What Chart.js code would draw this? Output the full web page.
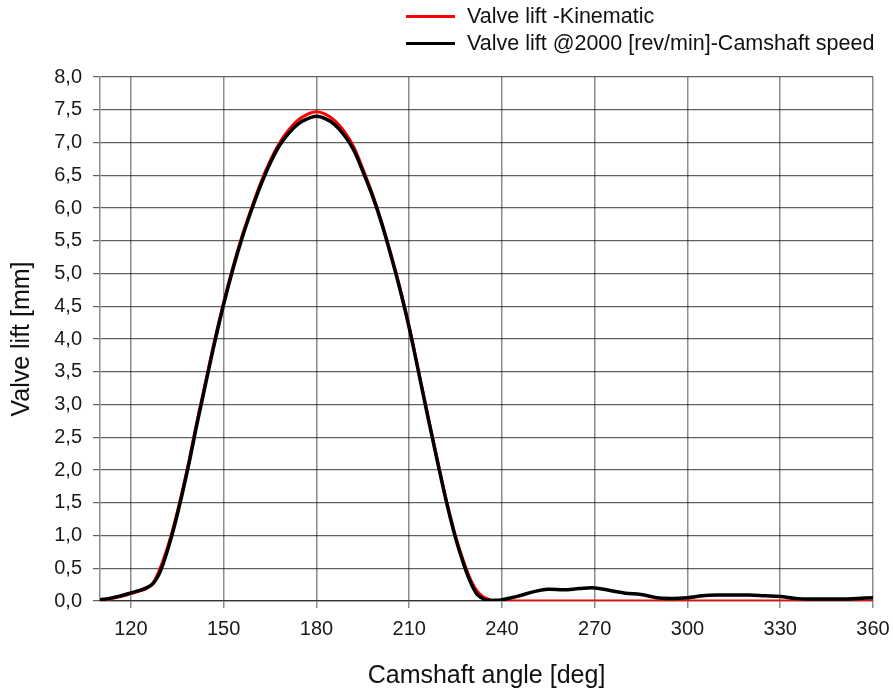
<!DOCTYPE html>
<html>
<head>
<meta charset="utf-8">
<script src="https://cdn.jsdelivr.net/npm/chart.js@4/dist/chart.umd.min.js"></script>
<style>
  html, body { margin: 0; padding: 0; background: #fff; }
  #wrap { position: relative; width: 893px; height: 691px; }
  #legend { position: absolute; left: 406px; top: 3px; font-family: "Liberation Sans", Arial, sans-serif; font-size: 21.5px; color: #111; }
  #legend .row { display: flex; align-items: center; height: 27px; }
  #legend .sw { width: 49px; height: 3px; margin-right: 12px; }
</style>
</head>
<body>
<div id="wrap">
  <canvas id="c" width="893" height="691"></canvas>
  <div id="legend"></div>
</div>
<script>
// Camshaft angle [deg]
const ANGLES = [110,113,116,119,122,125,127,129,131,133,135,137,139,141,143,145,147,
  150,153,156,159,162,165,168,171,174,177,180,
  183,186,189,192,195,198,201,204,207,210,213,216,219,222,225,228,
  230,232,234,236,238,240,
  245,250,255,260,265,270,275,280,285,290,295,300,305,310,315,320,325,330,335,340,345,350,355,360];

// Valve lift -Kinematic [mm]
const LIFT_KINEMATIC = [0.01,0.03,0.06,0.10,0.14,0.19,0.26,0.45,0.70,1.00,1.36,1.76,2.19,2.66,3.10,3.53,3.97,
  4.56,5.10,5.58,6.00,6.39,6.72,6.99,7.19,7.34,7.43,7.47,
  7.43,7.33,7.17,6.94,6.60,6.23,5.80,5.31,4.78,4.19,3.52,2.84,2.18,1.54,0.99,0.55,
  0.31,0.15,0.06,0.02,0.00,0.00,
  0,0,0,0,0,0,0,0,0,0,0,0,0,0,0,0,0,0,0,0,0,0,0,0];

// Valve lift @2000 [rev/min]-Camshaft speed [mm]
const LIFT_2000 = [0.02,0.04,0.07,0.11,0.15,0.20,0.26,0.40,0.65,0.96,1.32,1.72,2.15,2.62,3.06,3.50,3.93,
  4.53,5.07,5.55,5.97,6.35,6.68,6.95,7.14,7.28,7.36,7.40,
  7.36,7.27,7.11,6.89,6.56,6.20,5.78,5.29,4.76,4.17,3.50,2.82,2.16,1.52,0.96,0.51,
  0.27,0.10,0.03,0.01,0.01,0.02,
  0.07,0.14,0.18,0.17,0.19,0.20,0.16,0.12,0.10,0.05,0.04,0.05,0.08,0.09,0.09,0.09,0.08,0.07,0.04,0.03,0.03,0.03,0.04,0.05];

const X_TICKS = [120,150,180,210,240,270,300,330,360];
const Y_TICKS = [0,0.5,1,1.5,2,2.5,3,3.5,4,4.5,5,5.5,6,6.5,7,7.5,8];

const SERIES_LABELS = ['Valve lift -Kinematic', 'Valve lift @2000 [rev/min]-Camshaft speed'];
const X_TITLE = 'Camshaft angle [deg]';
const Y_TITLE = 'Valve lift [mm]';

const toPts = (vals) => ANGLES.map((a, i) => ({x: a, y: vals[i]}));

const htmlLegend = {
  id: 'htmlLegend',
  afterInit(chart) {
    const box = document.getElementById('legend');
    box.innerHTML = '';
    chart.data.datasets.forEach(ds => {
      const row = document.createElement('div');
      row.className = 'row';
      const sw = document.createElement('span');
      sw.className = 'sw';
      sw.style.background = ds.borderColor;
      const tx = document.createElement('span');
      tx.textContent = ds.label;
      row.appendChild(sw); row.appendChild(tx);
      box.appendChild(row);
    });
  }
};

const FONT = '"Liberation Sans", Arial, sans-serif';
const GRID_V = 'rgba(0,0,0,0.45)';
const GRID_H = 'rgba(0,0,0,0.62)';

new Chart(document.getElementById('c'), {
  type: 'line',
  data: {
    datasets: [
      { label: SERIES_LABELS[0], data: toPts(LIFT_KINEMATIC), borderColor: '#ff0000', borderWidth: 3,
        pointRadius: 0, tension: 0.35, order: 2 },
      { label: SERIES_LABELS[1], data: toPts(LIFT_2000), borderColor: '#000000', borderWidth: 3.5,
        pointRadius: 0, tension: 0.35, order: 1 }
    ]
  },
  options: {
    responsive: false,
    animation: false,
    layout: { padding: { top: 77, right: 20, bottom: 0, left: 0 } },
    plugins: { legend: { display: false }, tooltip: { enabled: false } },
    scales: {
      x: {
        type: 'linear', min: 110, max: 360,
        afterBuildTicks: s => { s.ticks = X_TICKS.map(v => ({value: v})); },
        afterFit: s => { s.height = 90; s.paddingLeft = 0; s.paddingRight = 0; },
        ticks: { font: { family: FONT, size: 20 }, color: '#1a1a1a', padding: 9, maxRotation: 0, autoSkip: false },
        grid: { color: GRID_V, lineWidth: 1.5, tickLength: 7, tickColor: GRID_V, tickWidth: 1.5 },
        border: { color: GRID_V, width: 1.5 },
        title: { display: true, text: X_TITLE, font: { family: FONT, size: 25 }, color: '#111', padding: { top: 0, bottom: 0 } }
      },
      y: {
        type: 'linear', min: 0, max: 8,
        afterBuildTicks: s => { s.ticks = Y_TICKS.map(v => ({value: v})); },
        afterFit: s => { s.width = 100; },
        ticks: { font: { family: FONT, size: 20 }, color: '#1a1a1a', padding: 11, autoSkip: false,
          callback: v => Number(v).toFixed(1).replace('.', ',') },
        grid: { color: GRID_H, lineWidth: 1.2, tickLength: 7, tickColor: GRID_H, tickWidth: 1.2 },
        border: { color: GRID_V, width: 1.5 },
        title: { display: true, text: Y_TITLE, font: { family: FONT, size: 25 }, color: '#111', padding: { top: 7, bottom: 0 } }
      }
    }
  },
  plugins: [htmlLegend]
});
</script>
</body>
</html>
